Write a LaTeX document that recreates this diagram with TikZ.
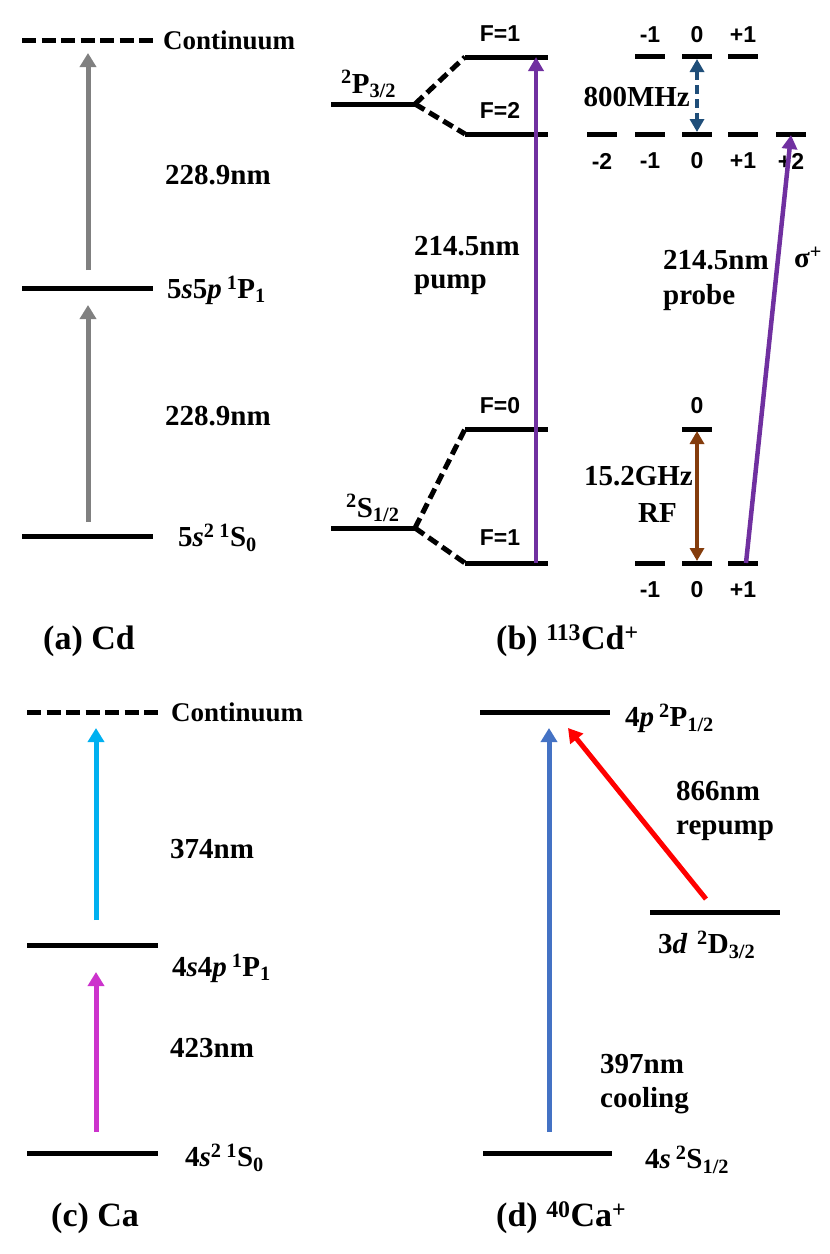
\documentclass[tikz,border=0pt]{standalone}
\usepackage{fontspec}
\setmainfont{Liberation Serif}
\newfontfamily\sansb{Liberation Sans}
\usetikzlibrary{arrows.meta}
\definecolor{cgray}{RGB}{128,128,128}
\definecolor{cpurple}{RGB}{112,48,160}
\definecolor{cdblue}{RGB}{31,78,121}
\definecolor{cbrown}{RGB}{132,60,12}
\definecolor{ccyan}{RGB}{0,176,240}
\definecolor{cmag}{RGB}{204,51,204}
\definecolor{cblue}{RGB}{68,114,196}
\definecolor{cred}{RGB}{255,0,0}
\begin{document}
\begin{tikzpicture}[x=1pt,y=-1pt,
  lev/.style={line width=5pt},
  dlev/.style={line width=5pt, dash pattern=on 14pt off 5.5pt},
  split/.style={line width=5pt, dash pattern=on 11pt off 5.5pt},
  lbl/.style={font=\fontsize{29}{33}\selectfont\bfseries, inner sep=0pt, anchor=west},
  lblc/.style={font=\fontsize{27}{31}\selectfont\bfseries, inner sep=0pt, anchor=west},
  plbl/.style={font=\fontsize{34}{38}\selectfont\bfseries, inner sep=0pt, anchor=west},
  sl/.style={font=\fontsize{23}{26}\selectfont\sansb\bfseries, inner sep=0pt},
  ar/.style={line width=5pt, -{Triangle[width=16pt,length=14pt]}},
  dar/.style={line width=4pt, {Triangle[width=14pt,length=13pt]}-{Triangle[width=14pt,length=13pt]}},
  zl/.style={line width=5pt}
]
\useasboundingbox (0,0) rectangle (830,1254);

% ---------------- (a) Cd ----------------
\draw[dlev] (22,40) -- (153,40);
\node[lblc] (acont) at (163,40) {Continuum};
\draw[lev] (22,288) -- (153,288);
\node[lbl] (ap) at (167,290) {5\textit{s}5\textit{p}\,\textsuperscript{1}P\textsubscript{1}};
\draw[lev] (22,536) -- (153,536);
\node[lbl] (as) at (178,538) {5\textit{s}\textsuperscript{2}\,\textsuperscript{1}S\textsubscript{0}};
\coordinate (a1) at (88,270); \coordinate (a2) at (88,53);
\coordinate (a3) at (88,522); \coordinate (a4) at (88,305);
\draw[ar, cgray] (a1) -- (a2);
\draw[ar, cgray] (a3) -- (a4);
\node[lbl] (al1) at (165,175) {228.9nm};
\node[lbl] (al2) at (165,416) {228.9nm};
\node[plbl] (acap) at (43,641) {(a) Cd};

% ---------------- (b) 113Cd+ ----------------
\coordinate (pj) at (415,104);
\coordinate (pf1) at (465,57);
\coordinate (pf2) at (465,134);
\draw[lev] (331,104) -- (pj);
\draw[split] (pj) -- (pf1);
\draw[split] (pj) -- (pf2);
\draw[lev] (pf1) -- (548,57);
\draw[lev] (pf2) -- (548,134);
\node[lbl, anchor=base west] (p32) at (341,93) {\textsuperscript{2}P\textsubscript{3/2}};
\node[sl] (F1u) at (500,34) {F=1};
\node[sl] (F2) at (500,110) {F=2};

\coordinate (sj) at (415,528);
\coordinate (sf0) at (465,429);
\coordinate (sf1) at (465,563);
\draw[lev] (331,528) -- (sj);
\draw[split] (sj) -- (sf0);
\draw[split] (sj) -- (sf1);
\draw[lev] (sf0) -- (548,429);
\draw[lev] (sf1) -- (548,563);
\node[lbl, anchor=base west] (s12) at (346,517) {\textsuperscript{2}S\textsubscript{1/2}};
\node[sl] (F0) at (500,406) {F=0};
\node[sl] (F1l) at (500,538) {F=1};

\coordinate (pumpA) at (536,563); \coordinate (pumpB) at (536,57);
\draw[line width=4.5pt, cpurple, -{Triangle[width=15pt,length=14pt]}] (pumpA) -- (pumpB);
\node[lbl] (pump1) at (414,246) {214.5nm};
\node[lbl] (pump2) at (414,285) {pump};

% Zeeman upper F=1
\foreach \x/\t in {650/-1,697/0,743/+1} {
  \draw[zl] (\x-15,56) -- (\x+15,56);
  \node[sl] at (\x,35) {\t};
}
% Zeeman F=2
\foreach \x/\t in {602/-2,650/-1,697/0,743/+1,791/+2} {
  \draw[zl] (\x-15,134) -- (\x+15,134);
}
\foreach \x/\t in {602/-2,650/-1,697/0,743/+1} {
  \node[sl] at (\x,161) {\t};
}
\node[sl] (m2) at (791,161) {+2};
% F=0
\draw[zl] (682,429) -- (712,429);
\node[sl] at (697,406) {0};
% F=1 lower
\foreach \x/\t in {650/-1,697/0,743/+1} {
  \draw[zl] (\x-15,563) -- (\x+15,563);
  \node[sl] at (\x,590) {\t};
}
\coordinate (mhzA) at (697,59); \coordinate (mhzB) at (697,132);
\draw[dar, cdblue, dash pattern=on 9pt off 5pt] (mhzA) -- (mhzB);
\node[lbl, anchor=east] (mhz) at (690,97) {800MHz};
\coordinate (rfA) at (697,431); \coordinate (rfB) at (697,561);
\draw[dar, cbrown] (rfA) -- (rfB);
\node[lbl, anchor=east] (rf1) at (693,476) {15.2GHz};
\node[lbl] (rf2) at (638,513) {RF};
\coordinate (prA) at (746,563); \coordinate (prB) at (791,135);
\draw[line width=4.5pt, cpurple, -{Triangle[width=15pt,length=14pt]}] (prA) -- (prB);
\node[lbl] (pr1) at (663,260) {214.5nm};
\node[lbl] (pr2) at (794,257) {σ\textsuperscript{+}};
\node[lbl] (pr3) at (663,298) {probe};
\node[plbl] (bcap) at (496,641) {(b) \textsuperscript{113}Cd\textsuperscript{+}};

% ---------------- (c) Ca ----------------
\draw[dlev] (27,712) -- (158,712);
\node[lblc] (ccont) at (171,712) {Continuum};
\draw[lev] (27,945) -- (158,945);
\node[lbl] (cp) at (172,968) {4\textit{s}4\textit{p}\,\textsuperscript{1}P\textsubscript{1}};
\draw[lev] (27,1153) -- (158,1153);
\node[lbl] (cs) at (185,1158) {4\textit{s}\textsuperscript{2}\,\textsuperscript{1}S\textsubscript{0}};
\coordinate (c1) at (96,920); \coordinate (c2) at (96,728);
\coordinate (c3) at (96,1132); \coordinate (c4) at (96,972);
\draw[ar, ccyan] (c1) -- (c2);
\draw[ar, cmag] (c3) -- (c4);
\node[lbl] (cl1) at (170,849) {374nm};
\node[lbl] (cl2) at (170,1048) {423nm};
\node[plbl] (ccap) at (51,1218) {(c) Ca};

% ---------------- (d) 40Ca+ ----------------
\draw[lev] (480,712) -- (610,712);
\node[lbl] (dp) at (625,718) {4\textit{p}\,\textsuperscript{2}P\textsubscript{1/2}};
\draw[lev] (650,912) -- (780,912);
\node[lbl] (dd) at (658,945) {3\textit{d}\,\,\textsuperscript{2}D\textsubscript{3/2}};
\draw[lev] (483,1153) -- (612,1153);
\node[lbl] (ds) at (645,1160) {4\textit{s}\,\textsuperscript{2}S\textsubscript{1/2}};
\coordinate (d1) at (549,1132); \coordinate (d2) at (549,728);
\coordinate (d3) at (706,899); \coordinate (d4) at (568,728);
\draw[ar, cblue] (d1) -- (d2);
\draw[ar, cred] (d3) -- (d4);
\node[lbl] (dl1) at (676,791) {866nm};
\node[lbl] (dl2) at (676,831) {repump};
\node[lbl] (dl3) at (600,1064) {397nm};
\node[lbl] (dl4) at (600,1101) {cooling};
\node[plbl] (dcap) at (496,1218) {(d) \textsuperscript{40}Ca\textsuperscript{+}};
\end{tikzpicture}
\end{document}
